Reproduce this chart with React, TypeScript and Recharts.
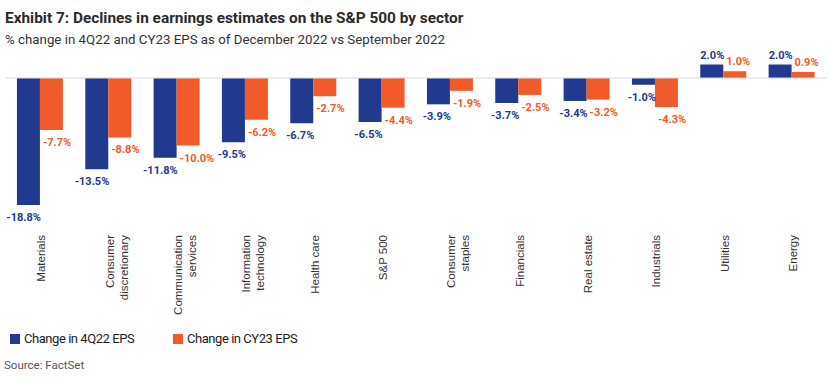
import { BarChart, Bar, XAxis, YAxis, ReferenceLine, LabelList } from 'recharts';

const sectors = [
  'Materials',
  'Consumer discretionary',
  'Communication services',
  'Information technology',
  'Health care',
  'S&P 500',
  'Consumer staples',
  'Financials',
  'Real estate',
  'Industrials',
  'Utilities',
  'Energy',
];

const tickLines = [
  ['Materials'],
  ['Consumer', 'discretionary'],
  ['Communication', 'services'],
  ['Information', 'technology'],
  ['Health care'],
  ['S&P 500'],
  ['Consumer', 'staples'],
  ['Financials'],
  ['Real estate'],
  ['Industrials'],
  ['Utilities'],
  ['Energy'],
];

const eps4q22 = [-18.8, -13.5, -11.8, -9.5, -6.7, -6.5, -3.9, -3.7, -3.4, -1.0, 2.0, 2.0];
const epsCy23 = [-7.7, -8.8, -10.0, -6.2, -2.7, -4.4, -1.9, -2.5, -3.2, -4.3, 1.0, 0.9];

const BLUE = '#213a8f';
const ORANGE = '#f15a29';

const data = sectors.map((name, i) => ({ name, q4: eps4q22[i], cy23: epsCy23[i] }));

const SectorTick = (props: any) => {
  const { x, payload } = props;
  const lines = tickLines[payload.index] || [payload.value];
  return (
    <g transform={`translate(${x},235)`}>
      <text
        transform="rotate(-90)"
        textAnchor="end"
        fontSize={11.5}
        fill="#333"
        fontFamily="'Liberation Sans', Arial, sans-serif"
      >
        {lines.map((l: string, i: number) => (
          <tspan key={i} x={0} y={5 + i * 14}>
            {l}
          </tspan>
        ))}
      </text>
    </g>
  );
};

// blue labels hug the right edge of the bar, orange ones start at the left edge
const makeLabel = (color: string, side: 'end' | 'start') => (props: any) => {
  const { x, y, width, height, value } = props;
  const top = Math.min(y, y + height);
  const bottom = Math.max(y, y + height);
  const ty = value < 0 ? bottom + 16 : top - 6;
  const tx = side === 'end' ? x + width + 1 : x + 3;
  return (
    <text
      x={tx}
      y={ty}
      textAnchor={side}
      fontSize={11}
      fontWeight={700}
      fill={color}
      fontFamily="Roboto, sans-serif"
    >
      {`${value.toFixed(1)}%`}
    </text>
  );
};

export default function App() {
  return (
    <div
      style={{
        position: 'absolute',
        left: 0,
        top: 0,
        width: 830,
        height: 379,
        background: '#fff',
        fontFamily: 'Roboto, sans-serif',
        overflow: 'hidden',
      }}
    >
      <div
        style={{
          position: 'absolute',
          left: 5,
          top: 9,
          fontSize: 15.4,
          fontWeight: 700,
          color: '#2b2b2b',
          whiteSpace: 'nowrap',
        }}
      >
        Exhibit 7: Declines in earnings estimates on the S&amp;P 500 by sector
      </div>
      <div
        style={{
          position: 'absolute',
          left: 5,
          top: 32,
          fontSize: 13.3,
          color: '#333',
          whiteSpace: 'nowrap',
        }}
      >
        % change in 4Q22 and CY23 EPS as of December 2022 vs September 2022
      </div>

      <div style={{ position: 'absolute', left: 0, top: 0 }}>
        <BarChart
          width={830}
          height={379}
          data={data}
          margin={{ top: 51, right: 4, left: 6, bottom: 76 }}
          barCategoryGap="16%"
          barGap={0}
        >
          <YAxis hide domain={[-20, 4]} type="number" allowDataOverflow />
          <XAxis
            dataKey="name"
            axisLine={false}
            tickLine={false}
            interval={0}
            height={90}
            tick={<SectorTick />}
          />
          <ReferenceLine y={0} stroke="#d9d9d9" strokeWidth={1} />
          <Bar dataKey="q4" fill={BLUE} isAnimationActive={false}>
            <LabelList dataKey="q4" content={makeLabel(BLUE, 'end')} />
          </Bar>
          <Bar dataKey="cy23" fill={ORANGE} isAnimationActive={false}>
            <LabelList dataKey="cy23" content={makeLabel(ORANGE, 'start')} />
          </Bar>
        </BarChart>
      </div>

      <div
        style={{
          position: 'absolute',
          left: 10,
          top: 331,
          display: 'flex',
          alignItems: 'center',
          fontSize: 13,
          letterSpacing: -0.45,
          color: '#222',
          whiteSpace: 'nowrap',
        }}
      >
        <span style={{ width: 10, height: 10, background: BLUE, display: 'inline-block', marginRight: 4 }} />
        <span style={{ width: 149 }}>Change in 4Q22 EPS</span>
        <span style={{ width: 10, height: 10, background: ORANGE, display: 'inline-block', marginRight: 4 }} />
        <span>Change in CY23 EPS</span>
      </div>

      <div
        style={{
          position: 'absolute',
          left: 4,
          top: 358,
          fontSize: 11.5,
          color: '#555',
          whiteSpace: 'nowrap',
        }}
      >
        Source: FactSet
      </div>
    </div>
  );
}
